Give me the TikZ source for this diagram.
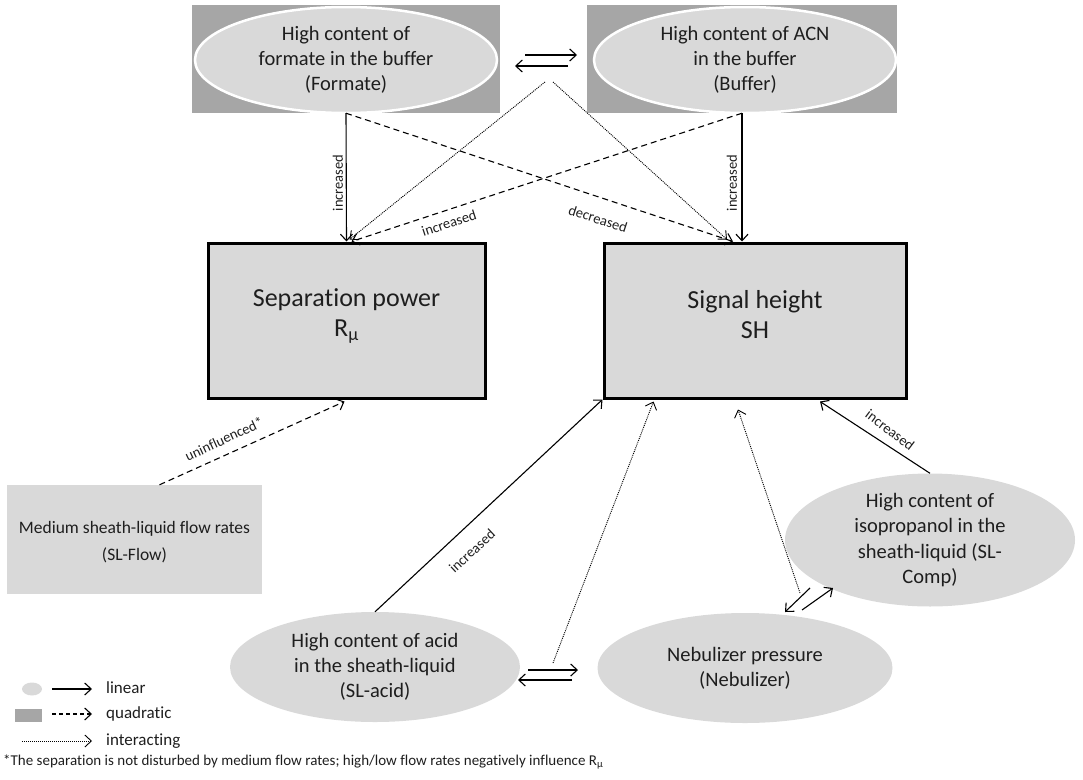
\documentclass[tikz,border=0pt]{standalone}
\usepackage{fontspec}
\setmainfont{Carlito}[Ligatures=NoCommon]
\usetikzlibrary{shapes.geometric,arrows.meta}
\definecolor{darkfill}{HTML}{A6A6A6}
\definecolor{lightfill}{HTML}{D9D9D9}
\definecolor{txt}{HTML}{1E1E1E}
\newcommand\ellfont{\fontsize{20.5}{25}\selectfont}
\newcommand\boxfont{\fontsize{26}{30}\selectfont}
\newcommand\lblfont{\fontsize{14.5}{16}\selectfont}
\newcommand\legfont{\fontsize{17}{19}\selectfont}
\newcommand\notefont{\fontsize{15}{17}\selectfont}
\begin{document}
\begin{tikzpicture}[x=1pt,y=-1pt,
  every node/.style={text=txt},
  darkbox/.style={rectangle, fill=darkfill, minimum width=308pt, minimum height=108pt, inner sep=0pt},
  topell/.style={ellipse, fill=lightfill, draw=white, line width=2.5pt, minimum width=302pt, minimum height=106pt, inner sep=0pt, align=center, font=\ellfont},
  ell/.style={ellipse, fill=lightfill, inner sep=0pt, align=center, font=\ellfont},
  mainbox/.style={rectangle, draw=black, line width=3pt, fill=lightfill, minimum height=155pt, inner sep=0pt},
  boxtext/.style={align=center, font=\boxfont, inner sep=0pt},
  lightbox/.style={rectangle, fill=lightfill, minimum width=255pt, minimum height=109pt, inner sep=0pt},
  lin/.style={draw=black, line width=1.1pt, -{Straight Barb[length=6.5pt,width=12pt]}},
  quad/.style={lin, dash pattern=on 6pt off 4pt},
  inter/.style={draw=black, line width=0.9pt, dash pattern=on 1pt off 1pt, -{Straight Barb[length=6.5pt,width=12pt]}},
  lbl/.style={font=\lblfont, inner sep=1pt},
  leg/.style={font=\legfont, anchor=west, inner sep=0pt},
]
\useasboundingbox (0,0) rectangle (1083,779);

% top factors
\node[darkbox] (fbox) at (346,59) {};
\node[topell] (fell) at (346,60) {High content of\\formate in the buffer\\(Formate)};
\node[darkbox, minimum width=310pt] (bbox) at (742,59) {};
\node[topell] (bell) at (745,60) {High content of ACN\\in the buffer\\(Buffer)};

% responses
\node[mainbox, minimum width=277pt] (rmu) at (346.5,320.5) {};
\node[boxtext] (rmutext) at (346.5,316) {Separation power\\R\textsubscript{μ}};
\node[mainbox, minimum width=302pt] (sh) at (755,320.5) {};
\node[boxtext] (shtext) at (755,315) {Signal height\\SH};

% bottom factors
\node[lightbox] (slflow) at (134.5,539.5) {};
\node[align=center, font=\fontsize{17.5}{27}\selectfont, inner sep=0pt] (slflowtext) at (134.5,542) {Medium sheath-liquid flow rates\\(SL-Flow)};
\node[ell, minimum width=290pt, minimum height=110pt] (slacid) at (375,667) {High content of acid\\in the sheath-liquid\\(SL-acid)};
\node[ell, minimum width=295pt, minimum height=110pt] (neb) at (745,668) {Nebulizer pressure\\(Nebulizer)};
\node[ell, minimum width=290pt, minimum height=107pt, font=\fontsize{20.5}{25.5}\selectfont] (slcomp) at (930,540) {High content of\\isopropanol in the\\sheath-liquid (SL-\\Comp)};

% interaction coordinates
\coordinate (ftob1) at (525,55);
\coordinate (ftob2) at (577,55);
\coordinate (btof1) at (568,66);
\coordinate (btof2) at (515,66);
\coordinate (int1) at (545,82);
\coordinate (int2) at (553,82);
\coordinate (atn1) at (528,670);
\coordinate (atn2) at (578,670);
\coordinate (nta1) at (572,680);
\coordinate (nta2) at (518,680);
\coordinate (int3) at (553,663);
\coordinate (int4) at (800,593);
\coordinate (ntc1) at (810,588);
\coordinate (ntc2) at (785,612);
\coordinate (ctn1) at (802,610);
\coordinate (ctn2) at (833,588);

% top connectors
\draw[lin] (ftob1) -- (ftob2);
\draw[lin] (btof1) -- (btof2);
\draw[lin] (fbox.south) -- (rmu.north);
\draw[lin] (bbox.south) -- (sh.north -| bbox.south);
\draw[quad] (fbox.south) -- ([xshift=-22pt]sh.north);
\draw[quad] (bbox.south) -- ([xshift=5pt]rmu.north);
\draw[inter] (int1) -- ([xshift=3pt,yshift=2pt]rmu.north);
\draw[inter] (int2) -- ([xshift=-28pt,yshift=2pt]sh.north);

\node[lbl, rotate=90] (l1) at (338,183) {increased};
\node[lbl, rotate=90] (l2) at (732,183) {increased};
\node[lbl, rotate=18] (l3) at (449,223) {increased};
\node[lbl, rotate=-18] (l4) at (598,219) {decreased};

% bottom connectors
\draw[quad] ([xshift=25pt]slflow.north) -- ([xshift=-2pt,yshift=-2pt]rmu.south);
\node[lbl, rotate=25] (l5) at (224,439) {uninfluenced*};
\draw[lin] (slacid.north) -- (sh.south west);
\node[lbl, rotate=43] (l6) at (472,551) {increased};
\draw[inter] (int3) -- ([xshift=51pt,yshift=-2pt]sh.south west);
\draw[lin] (atn1) -- (atn2);
\draw[lin] (nta1) -- (nta2);
\draw[inter] (int4) -- ([xshift=-17pt,yshift=-10pt]sh.south);
\draw[lin] (ntc1) -- (ntc2);
\draw[lin] (ctn1) -- (ctn2);
\draw[lin] (slcomp.north) -- ([xshift=65pt,yshift=-2pt]sh.south);
\node[lbl, rotate=-37] (l7) at (890,430) {increased};

% legend
\node[ellipse, fill=lightfill, minimum width=20pt, minimum height=13pt, inner sep=0pt] (legell) at (32,689) {};
\node[rectangle, fill=darkfill, minimum width=27pt, minimum height=13pt, inner sep=0pt] (legbox) at (28.5,715.5) {};
\coordinate (lg1a) at (52,689);
\coordinate (lg1b) at (92,689);
\coordinate (lg2a) at (52,714);
\coordinate (lg2b) at (92,714);
\coordinate (lg3a) at (22,741);
\coordinate (lg3b) at (92,741);
\draw[lin] (lg1a) -- (lg1b);
\draw[quad, dash pattern=on 4pt off 3pt] (lg2a) -- (lg2b);
\draw[inter] (lg3a) -- (lg3b);
\node[leg] (leglin) at (106,688) {linear};
\node[leg] (legquad) at (106,714) {quadratic};
\node[leg] (legint) at (106,741) {interacting};
\node[font=\notefont, anchor=west, inner sep=0pt] (note) at (3,762) {*The separation is not disturbed by medium flow rates; high/low flow rates negatively influence R\textsubscript{μ}};
\end{tikzpicture}
\end{document}
